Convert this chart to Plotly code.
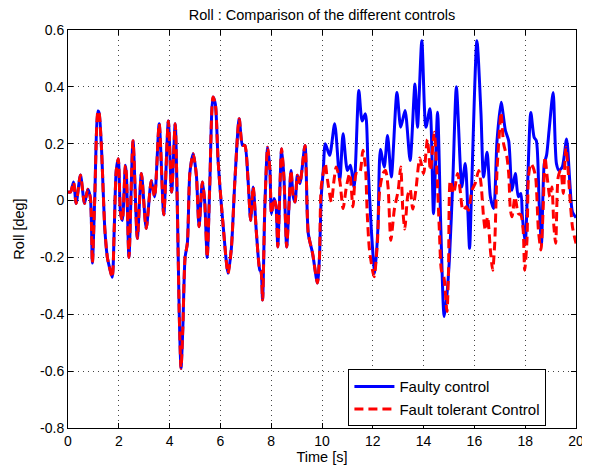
import plotly.graph_objects as go

# Common part (both controls identical up to ~9.9 s)
common_t = [0.0, 0.1, 0.22, 0.32, 0.49, 0.65, 0.78, 0.88, 0.96, 1.05, 1.18, 1.22, 1.31, 1.45, 1.55, 1.62,
            1.74, 1.82, 1.9, 1.98, 2.07, 2.14, 2.26, 2.3, 2.4, 2.56, 2.73, 2.89, 3.08, 3.28, 3.41, 3.59,
            3.77, 3.95, 4.08, 4.22, 4.3, 4.38, 4.45, 4.52, 4.61, 4.7, 4.8, 4.93, 5.0, 5.06, 5.16, 5.29,
            5.38, 5.48, 5.58, 5.71, 5.8, 5.91, 6.11, 6.3, 6.43, 6.57, 6.74, 6.87, 6.96, 7.09, 7.19, 7.29,
            7.42, 7.55, 7.6, 7.66, 7.75, 7.86, 7.95, 8.01, 8.11, 8.19, 8.26, 8.41, 8.5, 8.61, 8.71, 8.78,
            8.87, 8.94, 9.03, 9.13, 9.33, 9.46, 9.63, 9.82, 9.9]
common_v = [0.03, 0.03, 0.065, -0.01, 0.09, -0.01, 0.04, 0.01, -0.22, 0.0, 0.315, 0.31, 0.2, -0.1, -0.2, -0.23,
            -0.27, -0.1, 0.106, 0.147, -0.046, -0.07, 0.124, 0.09, -0.2, 0.21, -0.133, 0.095, -0.098, 0.07, 0.013, 0.27,
            -0.05, 0.28, 0.03, 0.27, 0.0, -0.4, -0.59, -0.45, -0.2, -0.15, 0.1, 0.165, 0.13, 0.083, -0.092, 0.065,
            0.0, -0.2, 0.05, 0.364, 0.34, 0.14, -0.09, -0.256, -0.17, 0.07, 0.288, 0.194, 0.194, 0.07, -0.07, 0.048,
            -0.116, -0.244, -0.25, -0.35, -0.02, 0.188, 0.106, -0.046, 0.007, -0.02, -0.163, 0.182, 0.083, -0.163, 0.0, 0.106,
            0.013, -0.005, 0.089, 0.06, 0.194, -0.116, -0.186, -0.29, -0.2]

faulty_tail_t = [9.97, 10.05, 10.13, 10.3, 10.5, 10.7, 10.83, 11.0, 11.12, 11.26, 11.45, 11.58, 11.71, 11.81,
                 11.94, 12.08, 12.2, 12.3, 12.45, 12.58, 12.73, 12.95, 13.1, 13.27, 13.47, 13.66, 13.76, 13.93,
                 14.09, 14.25, 14.39, 14.55, 14.68, 14.81, 14.9, 15.02, 15.15, 15.29, 15.44, 15.5, 15.64, 15.73,
                 15.81, 15.9, 16.1, 16.26, 16.36, 16.5, 16.63, 16.76, 16.89, 17.05, 17.22, 17.35, 17.48, 17.61,
                 17.73, 17.83, 17.89, 18.0, 18.1, 18.22, 18.35, 18.44, 18.55, 18.64, 18.75, 18.84, 18.94, 19.1,
                 19.23, 19.33, 19.46, 19.63, 19.76, 19.86, 20.0]
faulty_tail_v = [0.013, 0.106, 0.2, 0.159, 0.27, 0.071, 0.235, 0.106, 0.124, 0.048, 0.387, 0.28, 0.305, 0.13,
                 -0.1, -0.256, -0.1, 0.18, 0.118, 0.229, 0.083, 0.38, 0.258, 0.317, 0.141, 0.41, 0.258, 0.562,
                 0.258, 0.323, -0.046, 0.311, -0.104, -0.408, -0.35, -0.2, 0.07, 0.4, 0.13, 0.048, 0.13, -0.01,
                 -0.168, 0.071, 0.562, 0.305, 0.083, 0.17, 0.013, -0.028, 0.21, 0.346, 0.247, 0.21, 0.036, 0.095,
                 0.013, 0.025, -0.057, -0.151, 0.07, 0.31, 0.223, 0.21, -0.01, -0.151, 0.13, 0.159, 0.247, 0.38,
                 0.13, 0.106, 0.118, 0.217, 0.06, -0.04, -0.06]

tolerant_tail_t = [9.97, 10.13, 10.2, 10.37, 10.47, 10.56, 10.7, 10.83, 10.96, 11.09, 11.22, 11.35, 11.48, 11.61,
                   11.71, 11.78, 11.87, 12.05, 12.18, 12.27, 12.4, 12.5, 12.6, 12.71, 12.85, 13.0, 13.1, 13.18,
                   13.26, 13.38, 13.47, 13.57, 13.7, 13.85, 14.0, 14.15, 14.27, 14.42, 14.52, 14.62, 14.7, 14.8,
                   14.92, 14.98, 15.05, 15.18, 15.34, 15.44, 15.55, 15.68, 15.77, 15.9, 16.03, 16.17, 16.26, 16.36,
                   16.43, 16.52, 16.63, 16.72, 16.8, 16.89, 16.99, 17.05, 17.15, 17.28, 17.35, 17.42, 17.48, 17.6,
                   17.73, 17.83, 17.92, 17.98, 18.07, 18.13, 18.22, 18.31, 18.41, 18.52, 18.62, 18.71, 18.78, 18.88,
                   18.97, 19.05, 19.13, 19.2, 19.3, 19.4, 19.5, 19.6, 19.67, 19.76, 19.86, 20.0]
tolerant_tail_v = [0.048, 0.13, 0.083, -0.005, 0.07, 0.118, 0.07, -0.028, 0.048, 0.095, -0.022, 0.095, 0.095, 0.177,
                   0.118, -0.046, -0.174, -0.268, -0.15, 0.036, 0.095, 0.106, 0.048, -0.14, -0.03, 0.036, 0.118, -0.03,
                   -0.1, 0.02, 0.04, -0.03, 0.04, 0.15, 0.095, 0.215, 0.106, 0.24, 0.106, -0.104, -0.245, -0.27,
                   -0.39, -0.25, 0.07, 0.025, 0.095, 0.036, -0.034, -0.022, -0.034, 0.036, 0.06, 0.106, 0.06, -0.057,
                   -0.104, -0.057, -0.174, -0.245, -0.151, 0.106, 0.247, 0.31, 0.2, 0.153, 0.095, -0.034, -0.057, 0.013,
                   -0.046, -0.05, -0.104, -0.245, -0.14, 0.083, 0.13, 0.118, 0.083, -0.104, -0.174, -0.022, 0.153, 0.071,
                   0.013, 0.048, -0.092, -0.15, 0.083, 0.106, 0.025, 0.188, 0.13, 0.013, -0.092, -0.151]

x_ticks = [0, 2, 4, 6, 8, 10, 12, 14, 16, 18, 20]
x_tick_labels = ["0", "2", "4", "6", "8", "10", "12", "14", "16", "18", "20"]
y_ticks = [-0.8, -0.6, -0.4, -0.2, 0, 0.2, 0.4, 0.6]
y_tick_labels = ["-0.8", "-0.6", "-0.4", "-0.2", "0", "0.2", "0.4", "0.6"]

faulty_t = common_t + faulty_tail_t
faulty_v = common_v + faulty_tail_v
tolerant_t = common_t + tolerant_tail_t
tolerant_v = common_v + tolerant_tail_v

FONT = "Liberation Sans, Arial, Helvetica, sans-serif"

fig = go.Figure()
fig.add_trace(go.Scatter(x=faulty_t, y=faulty_v, mode="lines", name="Faulty control",
                         line=dict(color="#0000ff", width=3, shape="spline", smoothing=0.7)))
fig.add_trace(go.Scatter(x=tolerant_t, y=tolerant_v, mode="lines", name="Fault tolerant Control",
                         line=dict(color="#ff0000", width=3, dash="9px,5px", shape="spline", smoothing=0.7)))

axis_common = dict(showline=True, linecolor="black", linewidth=1, mirror="allticks",
                   ticks="inside", ticklen=5, tickcolor="black", showgrid=True,
                   gridcolor="#444444", griddash="1px,4px", gridwidth=1, zeroline=False,
                   automargin=False,
                   tickfont=dict(family=FONT, size=14, color="black"))

# the page body adds an 8 px offset at the top-left, so the figure is sized to fit the window
fig.update_layout(
    width=582, height=462,
    paper_bgcolor="white", plot_bgcolor="white",
    margin=dict(l=60, r=14, t=22, b=42),
    title=dict(text="Roll : Comparison of the different controls", x=0.5, xref="paper",
               y=0.995, yref="container", yanchor="top",
               font=dict(family=FONT, size=14.5, color="black")),
    xaxis=dict(range=[0, 20], tickvals=x_ticks, ticktext=x_tick_labels,
               title=dict(text="Time [s]", font=dict(family=FONT, size=14.5, color="black"), standoff=3),
               **axis_common),
    yaxis=dict(range=[-0.8, 0.6], tickvals=y_ticks, ticktext=y_tick_labels,
               title=dict(text="Roll [deg]", font=dict(family=FONT, size=14.5, color="black"), standoff=12),
               **axis_common),
    legend=dict(x=0.552, y=0.1475, xanchor="left", yanchor="top", bgcolor="white",
                bordercolor="black", borderwidth=1, font=dict(family=FONT, size=15, color="black"),
                itemwidth=40, tracegroupgap=0),
    showlegend=True,
)

fig.write_html("out.html")
